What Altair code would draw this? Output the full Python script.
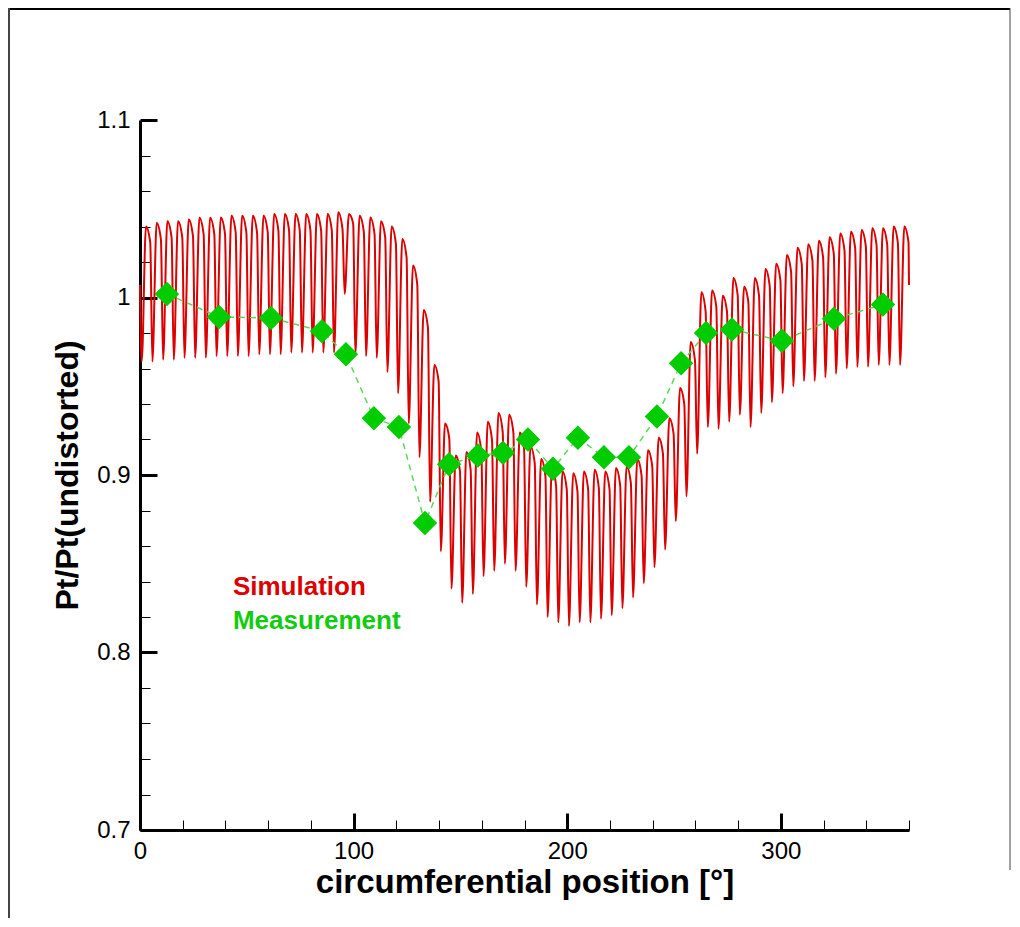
import altair as alt
import pandas as pd

# ---------------- data ----------------
blade_count = 72            # one pressure dip per blade passage
first_trough_deg = 0.8      # position of the first dip [deg]

# simulation: value at each dip (trough) and following crest (peak), per passage
sim_trough = [
    0.964, 0.964, 0.965, 0.965, 0.966, 0.966, 0.966, 0.967, 0.967, 0.967,
    0.967, 0.968, 0.968, 0.968, 0.969, 0.969, 0.969, 0.969, 0.969, 1.002,
    0.968, 0.967, 0.966, 0.958, 0.946, 0.929, 0.910, 0.885, 0.857, 0.836,
    0.828, 0.833, 0.843, 0.846, 0.850, 0.846, 0.837, 0.827, 0.820, 0.817,
    0.815, 0.817, 0.817, 0.819, 0.821, 0.825, 0.831, 0.839, 0.848, 0.858,
    0.874, 0.888, 0.912, 0.927, 0.926, 0.930, 0.934, 0.927, 0.935, 0.941,
    0.946, 0.950, 0.953, 0.953, 0.955, 0.957, 0.960, 0.961, 0.961, 0.962,
    0.962, 0.962,
]
sim_peak = [
    1.040, 1.042, 1.043, 1.043, 1.044, 1.045, 1.045, 1.045, 1.046, 1.046,
    1.046, 1.046, 1.047, 1.047, 1.047, 1.047, 1.047, 1.047, 1.048, 1.047,
    1.046, 1.045, 1.043, 1.040, 1.033, 1.018, 0.993, 0.962, 0.929, 0.911,
    0.913, 0.924, 0.930, 0.935, 0.934, 0.924, 0.916, 0.909, 0.904, 0.902,
    0.901, 0.902, 0.903, 0.902, 0.904, 0.905, 0.909, 0.914, 0.921, 0.932,
    0.949, 0.975, 1.003, 1.004, 1.001, 1.011, 1.006, 1.011, 1.016, 1.019,
    1.024, 1.028, 1.030, 1.032, 1.034, 1.036, 1.037, 1.038, 1.039, 1.039,
    1.040, 1.040,
]
sim_start = 1.007   # value at 0 deg
sim_end = 1.007     # value at 360 deg

# measurement probes
meas_x = [12.6, 37.0, 61.3, 85.2, 96.4, 109.5, 121.2, 133.4, 144.7, 158.2, 169.9,
          181.6, 193.3, 205.0, 217.2, 228.9, 242.0, 253.3, 265.0, 277.1, 300.5,
          324.9, 347.8]
meas_y = [1.002, 0.989, 0.9885, 0.981, 0.968, 0.932, 0.927, 0.873, 0.906, 0.911,
          0.9125, 0.920, 0.9035, 0.921, 0.910, 0.910, 0.933, 0.963, 0.980, 0.982,
          0.9756, 0.988, 0.996]

# axis ticks
x_major = [0, 100, 200, 300]
x_minor = [20, 40, 60, 80, 120, 140, 160, 180, 220, 240, 260, 280, 320, 340, 360]
y_major = [0.7, 0.8, 0.9, 1.0, 1.1]
y_minor = [0.72, 0.74, 0.76, 0.78, 0.82, 0.84, 0.86, 0.88, 0.92, 0.94, 0.96,
           0.98, 1.02, 1.04, 1.06, 1.08]

# in-chart legend text
legend_text = ["Simulation", "Measurement"]
legend_x = [43.5, 43.5]
legend_y = [0.837, 0.818]
legend_color = ["#dd0000", "#11cc11"]

# ---------------- styling ----------------
FONT = "Liberation Sans"
RED = "#dc0000"
GREEN = "#00cc00"
rise_deg = 2.0        # crest sits this far after a dip
shoulder_deg = 4.0    # end of the crest plateau
shoulder_level = 0.88 # plateau end height (fraction of dip->crest)

pitch = 360.0 / blade_count
rows = [{"x": 0.0, "y": sim_start}]
for k, (tv, pv) in enumerate(zip(sim_trough, sim_peak)):
    t = first_trough_deg + k * pitch
    rows.append({"x": t, "y": tv})
    rows.append({"x": t + rise_deg, "y": pv})
    rows.append({"x": t + shoulder_deg, "y": tv + shoulder_level * (pv - tv)})
rows.append({"x": 360.0, "y": sim_end})
sim_df = pd.DataFrame(rows)
sim_df["order"] = range(len(sim_df))

meas_df = pd.DataFrame({"x": meas_x, "y": meas_y})
leg_df = pd.DataFrame({"x": legend_x, "y": legend_y, "label": legend_text, "c": legend_color})

xs = alt.Scale(domain=[0, 360], nice=False, zero=False)
ys = alt.Scale(domain=[0.7, 1.1], nice=False, zero=False)

# axis carrying labels, titles and the thick domain line
x_label_axis = alt.Axis(orient="bottom", values=x_major, format="d", ticks=False, grid=False,
                        domain=True, domainColor="black", domainWidth=3,
                        labelFont=FONT, labelFontSize=24, labelColor="black", labelPadding=9,
                        labelFlush=False, labelOverlap=False,
                        titleFont=FONT, titleFontSize=33, titleFontWeight="bold",
                        titleColor="black", titlePadding=3)
y_label_axis = alt.Axis(orient="left", values=y_major, format="~g", ticks=False, grid=False,
                        domain=True, domainColor="black", domainWidth=3,
                        labelFont=FONT, labelFontSize=24, labelColor="black", labelPadding=10,
                        labelFlush=False, labelOverlap=False,
                        titleFont=FONT, titleFontSize=32, titleFontWeight="bold",
                        titleColor="black", titlePadding=12)
# inward major ticks
x_major_axis = alt.Axis(orient="bottom", values=x_major, labels=False, domain=False, grid=False,
                        ticks=True, tickSize=17, tickWidth=3, tickColor="black", offset=-17)
y_major_axis = alt.Axis(orient="left", values=y_major, labels=False, domain=False, grid=False,
                        ticks=True, tickSize=17, tickWidth=3, tickColor="black", offset=-17)
# inward minor ticks
x_minor_axis = alt.Axis(orient="bottom", values=x_minor, labels=False, domain=False, grid=False,
                        ticks=True, tickSize=10, tickWidth=1, tickColor="black", offset=-10)
y_minor_axis = alt.Axis(orient="left", values=y_minor, labels=False, domain=False, grid=False,
                        ticks=True, tickSize=10, tickWidth=1, tickColor="black", offset=-10)

sim = alt.Chart(sim_df).mark_line(color=RED, strokeWidth=2, interpolate="monotone").encode(
    x=alt.X("x:Q", scale=xs, axis=x_label_axis, title="circumferential position [°]"),
    y=alt.Y("y:Q", scale=ys, axis=y_label_axis, title="Pt/Pt(undistorted)"),
    order="order:Q",
)

meas_line = alt.Chart(meas_df).mark_line(color="#5ad85a", strokeWidth=1.5, strokeDash=[6, 5]).encode(
    x=alt.X("x:Q", scale=xs, axis=None),
    y=alt.Y("y:Q", scale=ys, axis=None),
)

meas_pts = alt.Chart(meas_df).mark_point(shape="diamond", filled=True, size=600,
                                          color=GREEN, opacity=1).encode(
    x=alt.X("x:Q", scale=xs, axis=x_major_axis, title=None),
    y=alt.Y("y:Q", scale=ys, axis=y_major_axis, title=None),
)

legend = alt.Chart(leg_df).mark_text(align="left", baseline="middle", font=FONT,
                                     fontSize=26, fontWeight="bold").encode(
    x=alt.X("x:Q", scale=xs, axis=x_minor_axis, title=None),
    y=alt.Y("y:Q", scale=ys, axis=y_minor_axis, title=None),
    text="label:N",
    color=alt.Color("c:N", scale=None),
)

# page frame seen around the reference picture
frame_top = alt.Chart().mark_rule(color="black", strokeWidth=2).encode(
    x=alt.value(-131), x2=alt.value(870), y=alt.value(-111))
frame_left = alt.Chart().mark_rule(color="#444444", strokeWidth=2).encode(
    x=alt.value(-131), y=alt.value(-112), y2=alt.value(800))
frame_right = alt.Chart().mark_rule(color="#444444", strokeWidth=1).encode(
    x=alt.value(870), y=alt.value(-112), y2=alt.value(750))

chart = alt.layer(sim, meas_line, meas_pts, legend, frame_top, frame_left, frame_right).resolve_axis(
    x="independent", y="independent"
).properties(
    width=769, height=710,
    autosize=alt.AutoSizeParams(type="none"),
    padding={"left": 132, "top": 112, "right": 102, "bottom": 88},
).configure_view(strokeWidth=0)

chart.save("out.html", embed_options={"renderer": "svg", "actions": False})
